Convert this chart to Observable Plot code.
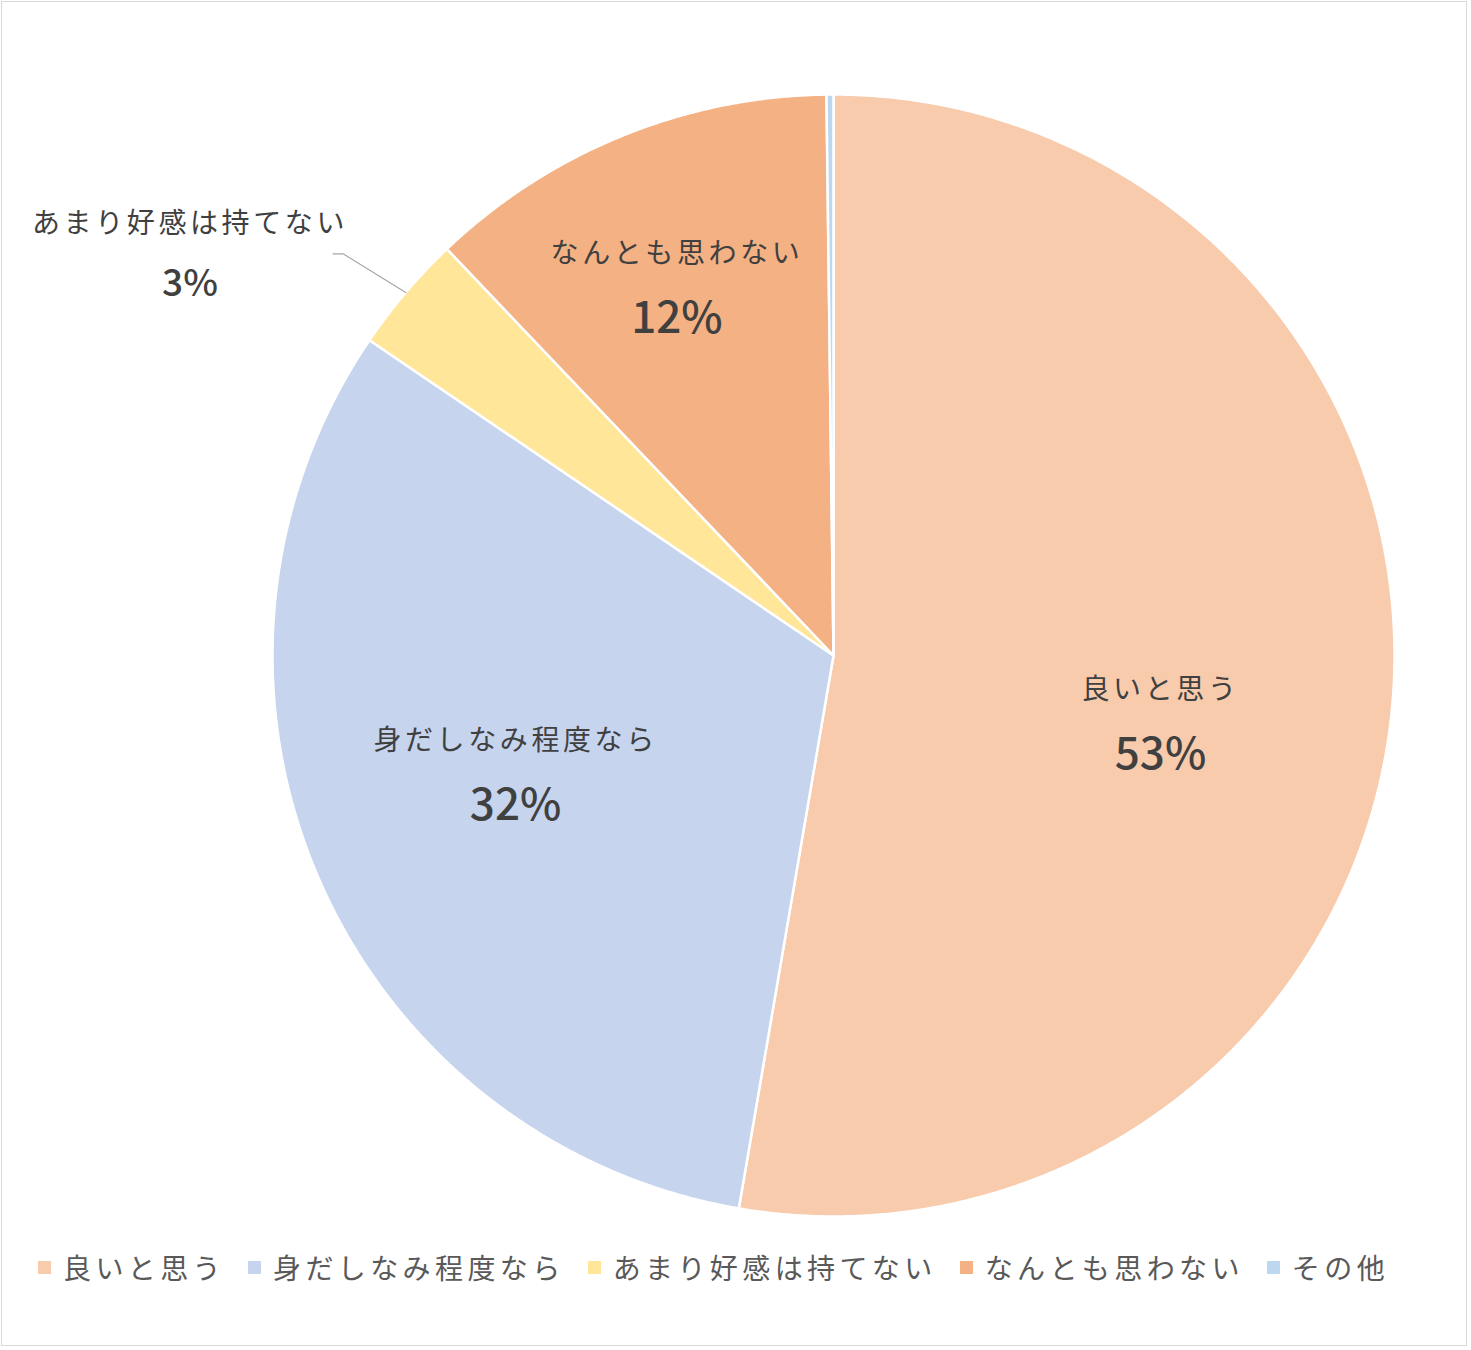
<!DOCTYPE html>
<html><head><meta charset="utf-8">
<script src="https://cdn.jsdelivr.net/npm/d3@7"></script>
<script src="https://cdn.jsdelivr.net/npm/@observablehq/plot@0.6"></script>
<style>
body{margin:0;background:#fff;font-family:"Noto Sans CJK JP",sans-serif;}
#border{position:absolute;left:1px;top:1px;width:1466px;height:1345px;border:1px solid #d9d9d9;box-sizing:border-box;}
#chart{position:absolute;left:0;top:0;width:1471px;}
#legend{display:flex;align-items:center;padding-left:38px;margin-top:12px;font-size:28px;letter-spacing:4.4px;color:#595959;}
#legend .item{display:flex;align-items:center;margin-right:23px;}
#legend .sw{width:13px;height:13px;margin-right:12px;}
</style>
</head><body>
<div id="border"></div>
<div id="chart"></div>
<script>
const categories = ["良いと思う","身だしなみ程度なら","あまり好感は持てない","なんとも思わない","その他"];
const values = [52.7, 31.8, 3.4, 11.9, 0.2];
const colors = ["#F8CBAD","#C6D4EE","#FFE699","#F4B183","#BDD7EE"];

// label layout: [radius fraction, angle offset in degrees]; "outside" = leader line; null = no label
const labelPlace = [[0.595, 6.7], [0.604, 2.8], "outside", [0.716, -0.8], null];

const pie = d3.pie().sort(null).value(d => d.value)(categories.map((c,i)=>({cat:c,value:values[i]})));

const wedgePts = [];
pie.forEach(p => {
  const cat = p.data.cat;
  wedgePts.push({cat, x:0, y:0});
  const n = Math.max(2, Math.ceil((p.endAngle - p.startAngle) / (Math.PI/720)));
  for (let k=0;k<=n;k++){
    const a = p.startAngle + (p.endAngle - p.startAngle)*k/n;
    wedgePts.push({cat, x:Math.sin(a), y:Math.cos(a)});
  }
  wedgePts.push({cat, x:0, y:0});
});

const rad = Math.PI/180;
const inside = [], outside = [], leader = [];
pie.forEach((p,i) => {
  const lp = labelPlace[i];
  if (lp == null) return;
  const mid = (p.startAngle + p.endAngle)/2;
  const pct = Math.round(p.data.value) + "%";
  if (lp === "outside") {
    const ea = mid - 1.0*rad;
    const e = {x:1.13*Math.sin(ea), y:1.13*Math.cos(ea)};
    leader.push({x:Math.sin(mid), y:Math.cos(mid)}, e, {x:e.x-0.018, y:e.y});
    outside.push({x:e.x-0.018, y:e.y, cat:p.data.cat, pct});
  } else {
    const a = mid + lp[1]*rad;
    inside.push({x:lp[0]*Math.sin(a), y:lp[0]*Math.cos(a), cat:p.data.cat, pct});
  }
});

const font = "Noto Sans CJK JP";
const chart = Plot.plot({
  width:1471, height:1235,
  marginLeft:272, marginRight:77, marginTop:94, marginBottom:19,
  x:{domain:[-1,1], axis:null},
  y:{domain:[-1,1], axis:null},
  color:{domain:categories, range:colors},
  style:{background:"transparent"},
  marks:[
    Plot.line(wedgePts, {x:"x", y:"y", z:"cat", fill:"cat", stroke:"white", strokeWidth:2.5, strokeLinejoin:"round", curve:"linear"}),
    Plot.line(leader, {x:"x", y:"y", stroke:"#a6a6a6", strokeWidth:1.2}),
    Plot.text(inside, {x:"x", y:"y", text:"cat", dy:-32, fontSize:28, fill:"#404040", fontFamily:font, className:"cat"}),
    Plot.text(inside, {x:"x", y:"y", text:"pct", dy:33, fontSize:44, fill:"#404040", fontFamily:font, fontWeight:500}),
    Plot.text(outside, {x:"x", y:"y", text:"cat", dx:-143, dy:-30, fontSize:28, fill:"#404040", fontFamily:font, className:"cat"}),
    Plot.text(outside, {x:"x", y:"y", text:"pct", dx:-143, dy:30, fontSize:37, fill:"#404040", fontFamily:font, fontWeight:500})
  ]
});
chart.querySelectorAll("g.cat text").forEach(t=>t.style.letterSpacing="3.6px");
document.getElementById("chart").appendChild(chart);

const lg = document.createElement("div");
lg.id = "legend";
categories.forEach((c,i)=>{
  const it = document.createElement("div"); it.className="item";
  const sw = document.createElement("span"); sw.className="sw"; sw.style.background=colors[i];
  const tx = document.createElement("span"); tx.textContent=c;
  it.appendChild(sw); it.appendChild(tx); lg.appendChild(it);
});
document.getElementById("chart").appendChild(lg);
</script>
</body></html>
